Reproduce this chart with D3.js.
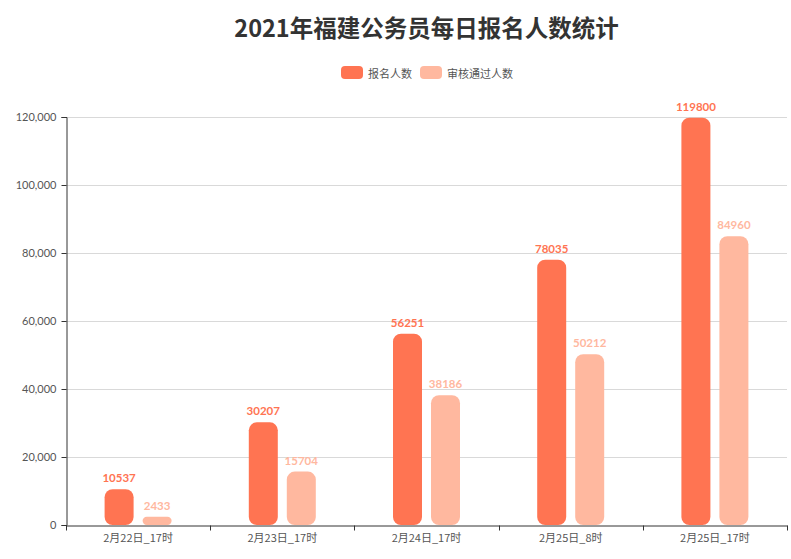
<!DOCTYPE html>
<html><head><meta charset="utf-8">
<script src="https://cdn.jsdelivr.net/npm/d3@7"></script>
<style>body{margin:0;background:#fff;font-family:"Noto Sans CJK SC","Noto Sans",sans-serif;}</style>
</head><body><svg id="c" width="791" height="559"></svg>
<script>
const categories = ["2月22日_17时","2月23日_17时","2月24日_17时","2月25日_8时","2月25日_17时"];
const seriesNames = ["报名人数","审核通过人数"];
const registered = [10537, 30207, 56251, 78035, 119800];
const approved = [2433, 15704, 38186, 50212, 84960];
const yTicks = [0, 20000, 40000, 60000, 80000, 100000, 120000];
const colors = ["#FF7452", "#FFB89F"];

const svg = d3.select("#c");
const m = {l:66, r:787, t:117, b:525};
const x = d3.scaleBand().domain(categories).range([m.l, m.r]);
const y = d3.scaleLinear().domain([0,120000]).range([m.b, m.t]);
const fontCJK = '"Noto Sans CJK SC", sans-serif';

// title
svg.append("text").attr("x", (m.l+m.r)/2).attr("y", 27).attr("text-anchor","middle")
  .attr("dominant-baseline","central").attr("font-size",23.5).attr("font-weight","bold")
  .attr("fill","#333").attr("font-family",fontCJK).text("2021年福建公务员每日报名人数统计");

// legend
const leg = [{x:341},{x:420}];
seriesNames.forEach((n,i)=>{
  const g = svg.append("g");
  g.append("rect").attr("x",leg[i].x).attr("y",66).attr("width",22).attr("height",13).attr("rx",4).attr("fill",colors[i]);
  g.append("text").attr("x",leg[i].x+27).attr("y",72.5).attr("dominant-baseline","central")
   .attr("font-size",11).attr("fill","#555").attr("font-family",fontCJK).text(n);
});

// grid
svg.append("g").selectAll("line").data(yTicks.filter(d=>d>0)).join("line")
  .attr("x1",m.l).attr("x2",m.r).attr("y1",d=>y(d)+0.5).attr("y2",d=>y(d)+0.5)
  .attr("stroke","#d9d9d9").attr("stroke-width",1);

// y axis
const ya = svg.append("g").attr("transform",`translate(${m.l+0.5},0)`)
  .call(d3.axisLeft(y).tickValues(yTicks).tickFormat(d3.format(",")).tickSizeOuter(0).tickSize(5));
ya.select(".domain").attr("stroke","#333");
ya.selectAll(".tick line").attr("stroke","#333");
ya.selectAll("text").attr("font-size",11).attr("fill","#555").attr("font-family","Lato, sans-serif").attr("dx",-2);

// x axis
const xa = svg.append("g").attr("transform",`translate(0,${m.b+0.5})`)
  .call(d3.axisBottom(x).tickSize(0).tickSizeOuter(0));
xa.select(".domain").attr("stroke","#333");
xa.selectAll("text").attr("font-size",11).attr("fill","#555").attr("font-family",fontCJK).attr("dy","1.2em");
// boundary ticks
const bounds = categories.map(c=>x(c)).concat([m.r]);
xa.selectAll(".btick").data(bounds).join("line").attr("class","btick")
  .attr("x1",d=>Math.round(d)+0.5).attr("x2",d=>Math.round(d)+0.5).attr("y1",0).attr("y2",5).attr("stroke","#333");

// bars
const barW = 29, gap = 9;
const series = [registered, approved];
series.forEach((vals,si)=>{
  const off = si===0 ? -(gap/2+barW) : gap/2;
  svg.append("g").selectAll("rect").data(vals).join("rect")
    .attr("x",(d,i)=>x(categories[i])+x.bandwidth()/2+off)
    .attr("y",d=>y(d))
    .attr("width",barW).attr("height",d=>m.b-y(d))
    .attr("rx",d=>Math.min(8,(m.b-y(d))/2)).attr("fill",colors[si]);
  svg.append("g").selectAll("text").data(vals).join("text")
    .attr("x",(d,i)=>x(categories[i])+x.bandwidth()/2+off+barW/2)
    .attr("y",d=>y(d)-7).attr("text-anchor","middle")
    .attr("font-size",11.5).attr("font-weight","bold").attr("fill",colors[si])
    .attr("font-family","Lato, sans-serif").text(d=>d);
});
</script></body></html>
